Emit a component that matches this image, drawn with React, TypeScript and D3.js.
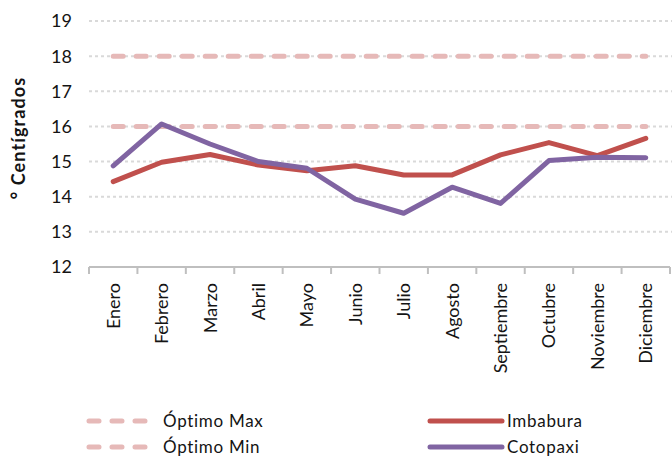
import React from 'react';
import * as d3 from 'd3';

const months = ['Enero', 'Febrero', 'Marzo', 'Abril', 'Mayo', 'Junio', 'Julio', 'Agosto', 'Septiembre', 'Octubre', 'Noviembre', 'Diciembre'];
const imbabura = [14.43, 14.98, 15.2, 14.9, 14.74, 14.88, 14.62, 14.62, 15.19, 15.54, 15.17, 15.66];
const cotopaxi = [14.88, 16.07, 15.5, 15.0, 14.81, 13.93, 13.53, 14.27, 13.81, 15.03, 15.12, 15.11];
const optimoMax = [18, 18, 18, 18, 18, 18, 18, 18, 18, 18, 18, 18];
const optimoMin = [16, 16, 16, 16, 16, 16, 16, 16, 16, 16, 16, 16];
const yTicks = [12, 13, 14, 15, 16, 17, 18, 19];

const W = 672;
const H = 456;
const FONT = 'Lato, "Open Sans", sans-serif';
const INK = '#141414';

const series = [
  { name: 'Óptimo Max', values: optimoMax, color: '#E6B9B8', dash: '10,13' },
  { name: 'Óptimo Min', values: optimoMin, color: '#E6B9B8', dash: '10,13' },
  { name: 'Imbabura', values: imbabura, color: '#C0504D', dash: null },
  { name: 'Cotopaxi', values: cotopaxi, color: '#8064A2', dash: null },
];

export default function App() {
  const x = d3.scaleBand<string>().domain(months).range([89, 670]);
  const y = d3.scaleLinear().domain([12, 19]).range([267, 21]);
  const cx = (m: string) => (x(m) ?? 0) + x.bandwidth() / 2;

  const line = d3.line<number>()
    .x((_, i) => cx(months[i]))
    .y(d => y(d));

  const boundaries = months.map(m => x(m) ?? 0).concat([x.range()[1]]);

  // legend: two columns, two rows
  const legendPos = [
    { lx: 89, ly: 421 },
    { lx: 89, ly: 447 },
    { lx: 430, ly: 421 },
    { lx: 430, ly: 447 },
  ];

  return (
    <svg width={W} height={H} style={{ position: 'fixed', left: 0, top: 0, background: '#fff' }} fontFamily={FONT}>
      {/* gridlines */}
      {yTicks.filter(t => t > 12).map(t => (
        <line key={t} x1={89} x2={672} y1={y(t)} y2={y(t)} stroke="#D9D9D9" strokeWidth={2} strokeDasharray="3,3" />
      ))}

      {/* y tick labels */}
      {yTicks.map(t => (
        <text key={t} x={72} y={y(t)} dy="0.36em" textAnchor="end" fontSize={18} fill={INK}>{t}</text>
      ))}

      {/* y title */}
      <text transform={`translate(19,138) rotate(-90)`} dy="0.35em" textAnchor="middle" fontSize={18} fontWeight="bold"
        letterSpacing={1.1} fill={INK}>° Centígrados</text>

      {/* x axis */}
      <line x1={89} x2={670} y1={267} y2={267} stroke="#BFBFBF" strokeWidth={2} />
      {boundaries.map((b, i) => (
        <line key={i} x1={b} x2={b} y1={267} y2={274} stroke="#BFBFBF" strokeWidth={2} />
      ))}
      {months.map(m => (
        <text key={m} transform={`translate(${cx(m)},283) rotate(-90)`} textAnchor="end" dy="0.36em" fontSize={18} fill={INK}>{m}</text>
      ))}

      {/* series */}
      {series.map(s => (
        <path key={s.name} d={line(s.values) ?? ''} fill="none" stroke={s.color} strokeWidth={5}
          strokeLinecap="round" strokeLinejoin="round" strokeDasharray={s.dash ?? undefined} />
      ))}

      {/* legend */}
      {series.map((s, i) => {
        const p = legendPos[i];
        const w = s.dash ? 62 : 72;
        return (
          <g key={s.name} transform={`translate(${p.lx},${p.ly})`}>
            <line x1={0} x2={w} y1={0} y2={0} stroke={s.color} strokeWidth={5} strokeLinecap="round" strokeDasharray={s.dash ?? undefined} />
            <text x={s.dash ? 74 : 77} y={0} dy="0.36em" fontSize={17} letterSpacing={0.7} fill={INK}>{s.name}</text>
          </g>
        );
      })}
    </svg>
  );
}
